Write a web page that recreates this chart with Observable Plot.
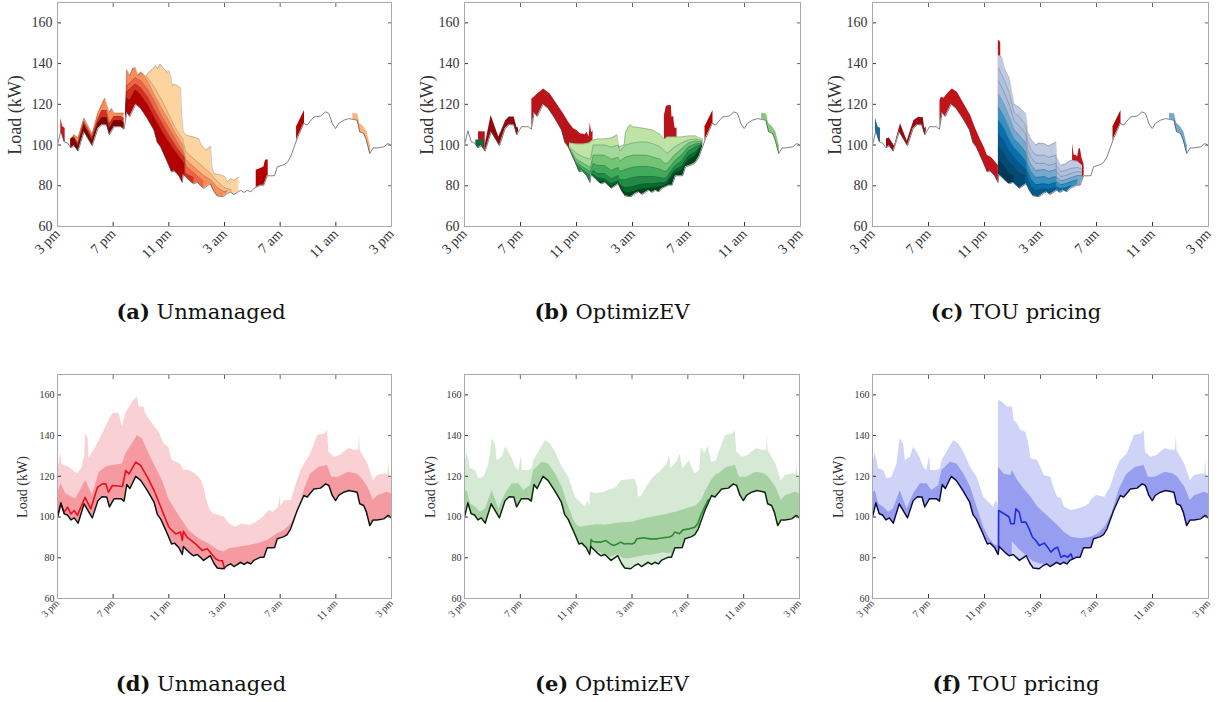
<!DOCTYPE html>
<html><head><meta charset="utf-8">
<script src="https://cdn.jsdelivr.net/npm/d3@7"></script>
<script src="https://cdn.jsdelivr.net/npm/@observablehq/plot@0.6"></script>
<style>
body{margin:0;background:#fff;}
#root{position:relative;width:1227px;height:702px;overflow:hidden;background:#fff;}
.panel{position:absolute;}
.cap{position:absolute;font-family:"DejaVu Serif",serif;font-size:21px;color:#111;white-space:nowrap;transform:translate(-50%,-50%);}
.ylab{position:absolute;font-family:"Liberation Serif",serif;color:#333;white-space:nowrap;transform:translate(-50%,-50%) rotate(-90deg);}
</style></head><body><div id="root"></div>
<script>
// ---------- axis ticks ----------
const xTicks = [0, 4, 8, 12, 16, 20, 24];          // hours after 3 pm
const xTickLabels = ["3 pm", "7 pm", "11 pm", "3 am", "7 am", "11 am", "3 pm"];
const yTicks = [60, 80, 100, 120, 140, 160];
const yDomain = [60, 170];

// ---------- base (non-EV) load, [hour after 3 pm, kW] ----------
const baseLoad = [[0,100],[0.24,107],[0.48,101.6],[0.72,101],[0.96,98.6],[1.2,99.6],[1.48,97],[1.91,106.5],[2.5,99.6],[2.9,108],[3.2,110],[3.54,109.8],[3.73,105],[4.07,109],[4.55,109],[4.78,107.8],[4.98,116],[5.2,114],[5.62,120],[5.98,118],[6.46,113],[6.94,107.3],[7.18,101.2],[7.42,99],[7.89,91.8],[8.2,86.8],[8.4,87.2],[8.73,84.9],[8.97,81.6],[9.04,85.5],[9.57,82],[9.76,81],[10.05,81.6],[10.5,78.7],[10.98,81],[11.24,77.3],[11.48,75],[11.9,74.6],[12.2,76.2],[12.44,77],[12.68,75.7],[13.16,77.8],[13.4,76.7],[13.64,77.8],[13.88,77],[14.1,78.7],[14.6,80.3],[14.83,80.3],[15.07,84.9],[15.43,84.9],[15.6,85],[15.79,89.3],[16.27,90.4],[16.5,91.4],[16.75,94.2],[17.22,103.2],[17.7,110.6],[17.94,109.8],[18.42,113.8],[18.9,114.2],[19.26,116.3],[19.5,115.5],[19.74,110.6],[19.98,108.1],[20.2,110.6],[20.57,112.2],[20.93,113],[21.3,112.5],[21.53,112.2],[21.72,106.5],[22.0,105.7],[22.2,102.4],[22.44,95.8],[22.68,98.6],[22.97,98.6],[23.44,99.1],[23.76,100.8],[24,99.6]];

// ---------- (a) Unmanaged: cohort layer tops ----------
const aPatch1 = [[0.24,113],[0.38,109],[0.55,108.3]];
const aEve1 = [[0.96,103],[1.2,103.5],[1.48,99.5],[1.91,110],[2.5,102.5],[2.9,110.5],[3.2,113.5],[3.54,113.5],[3.73,108],[4.07,112],[4.55,112],[4.78,111]];
const aEve2 = [[0.96,103],[1.2,104],[1.48,101],[1.91,111.5],[2.5,104],[2.9,112.5],[3.2,117],[3.54,117],[3.73,110.5],[4.07,114],[4.55,114],[4.78,113]];
const aEve3 = [[0.96,103],[1.2,105],[1.48,103.5],[1.91,113.3],[2.5,105.5],[2.9,115.5],[3.2,120],[3.4,123],[3.54,120],[3.73,116],[3.9,118],[4.07,115.6],[4.55,115.6],[4.78,115.6]];
const aMain1 = [[4.9,116],[4.98,123],[5.2,122],[5.6,127],[6.0,124.5],[6.5,119.5],[7.0,113],[7.5,107],[8.0,101.5],[8.5,96.5],[9.0,92],[9.15,90.5]];
const aMain2 = [[4.9,116.5],[4.98,126],[5.6,130],[6.0,128],[6.5,123.5],[7.0,117],[7.5,111],[8.0,105],[8.5,99.5],[9.0,95],[9.15,94],[9.2,86],[9.8,84]];
const aMain3 = [[4.9,117],[4.98,129],[5.6,133],[6.0,131.5],[6.5,127],[7.0,121],[7.5,114],[8.0,108.5],[8.5,102.5],[9.0,97],[9.2,90],[9.5,88],[10.0,85],[10.5,82]];
const aMain4 = [[4.9,118],[4.98,137],[5.2,134],[5.4,137.5],[5.6,138],[5.8,134],[6.0,135.5],[6.3,133],[6.5,131],[7.0,124],[7.5,118],[8.0,112],[8.5,105.5],[9.0,100],[9.2,93],[9.5,91],[10.0,88],[10.5,85],[11.0,83],[11.5,79],[12.0,77],[12.2,77.5]];
const aMain5 = [[5.8,134.5],[6.0,136],[6.3,134],[6.5,133],[7.0,128],[7.5,122],[8.0,115],[8.5,108],[9.0,103],[9.2,97],[9.5,95],[10.0,92],[10.5,89],[11.0,86],[11.5,82],[12.0,79],[12.5,78]];
const aMain6 = [[6.4,134],[6.46,135],[6.8,137],[7.06,139],[7.2,137.5],[7.37,139.8],[7.66,137.3],[7.89,135.7],[8.0,136.5],[8.13,134],[8.25,129.2],[8.4,129.8],[8.61,129.2],[8.85,128],[8.92,115.3],[9.04,106.3],[9.33,104.7],[9.81,103.9],[10.17,103],[10.29,100.6],[10.65,97.4],[11.0,99.3],[11.1,89.2],[11.24,86],[11.84,85.1],[12.05,84.3],[12.2,81.9],[12.44,83.5],[12.68,82.7],[13.04,84.3]];
const aMorning = [[14.28,87.6],[14.6,88.5],[14.83,89.2],[14.95,92.5],[15.14,92.8]];
const patch17 = [[17.18,109],[17.75,117]];
const noonPatch = [[21.22,115.6],[21.58,115.3],[21.72,110.7],[22.0,109],[22.25,106.3],[22.42,101.4],[22.49,99.8]];

// ---------- (b) OptimizEV ----------
const bPatchRed = [[1.0,106.5],[1.48,106.5]];
const bPatchGreen = [[0.81,102.5],[1.41,102.5]];
const bEve = [[1.48,100],[1.9,114.5],[2.45,104],[2.95,112],[3.2,113.8],[3.55,113.8],[3.75,108.5],[3.86,108.5]];
const bRed = [[4.81,122.6],[4.98,123.5],[5.2,125],[5.65,127.5],[6.12,125.1],[6.6,120.2],[7.08,115.3],[7.44,111.2],[7.79,108],[8.03,107.1],[8.27,105.5],[8.63,105],[8.75,106.3],[8.91,103.9],[8.98,111],[9.08,106],[9.18,107]];
const bMorningRed = [[14.28,114.5],[14.42,119],[14.7,119.5],[14.78,119],[14.82,113.7],[14.94,114],[15.0,110],[15.06,108],[15.18,108.5]];
const bGreen1 = [[7.5,101],[8.0,100.5],[8.5,100.5],[8.9,101],[9.2,102.5],[9.5,103],[10.0,103],[10.5,103.5],[10.9,105],[11.0,99],[11.4,100],[11.5,106],[11.7,109],[11.9,110],[12.0,109],[12.5,108.5],[13.0,108],[13.5,107.3],[14.0,105],[14.3,103],[14.5,104],[15.0,104],[15.5,104],[16.0,104.5],[16.5,104.5],[16.9,103],[17.05,103]];
const bGreen2 = [[7.5,99],[8.0,96],[8.5,94],[9.0,93],[9.2,100],[9.5,100],[10.0,100],[10.5,99],[11.0,100],[11.1,97],[11.5,100],[12.0,101],[12.5,101.5],[13.0,101.5],[13.5,100.5],[14.0,99],[14.3,97],[14.5,96],[15.0,99],[15.5,101],[16.0,102.5],[16.5,103],[17.0,102]];
const bGreen3 = [[7.5,98.5],[8.0,93],[8.5,91],[9.0,89],[9.2,95],[9.5,95],[10.0,95],[10.5,93],[11.0,94],[11.1,92],[11.5,94],[12.0,95],[12.5,95],[13.0,95],[13.5,94],[14.0,93],[14.3,91],[14.5,91],[15.0,95],[15.5,98],[16.0,101],[16.5,102],[17.0,101.5]];
const bGreen4 = [[7.5,98],[8.0,91.5],[8.5,89],[9.0,87],[9.2,91],[9.5,90],[10.0,90],[10.5,87.5],[11.0,89],[11.1,87],[11.5,88],[12.0,89],[12.5,89.5],[13.0,89.5],[13.5,89],[14.0,88],[14.3,87],[14.5,87.5],[15.0,92],[15.5,95],[16.0,99],[16.5,100.5],[17.0,101]];
const bGreen5 = [[7.5,97.5],[8.0,90.5],[8.5,87.5],[9.0,85],[9.2,87.5],[9.5,86],[10.0,86],[10.5,83.5],[11.0,85],[11.1,83],[11.5,83],[12.0,84],[12.5,84.5],[13.0,84.5],[13.5,84.5],[14.0,84],[14.3,83.5],[14.5,84.5],[15.0,89.5],[15.5,92],[16.0,97],[16.5,99],[17.0,100.5]];
const bGreen6 = [[9.0,84],[9.2,85.5],[9.5,84],[10.0,83.5],[10.5,81],[11.0,82.5],[11.1,80.5],[11.5,79],[12.0,79.5],[12.5,80.5],[13.0,81],[13.5,81],[14.0,81.5],[14.3,81.5],[14.5,82.5],[15.0,87.5],[15.5,89.5],[16.0,94.5],[16.5,96.5],[17.0,100]];
const bGreen7 = [[9.5,82.3],[10.0,82],[10.5,79.5],[11.0,81.5],[11.5,76.5],[12.0,77],[12.5,78],[13.0,78.5],[13.5,79],[14.0,79.5],[14.3,80],[14.5,81],[15.0,86],[15.5,87.5],[16.0,92.5],[16.5,94.5],[17.0,100]];

// ---------- (c) TOU pricing ----------
const cPatchBlue = [[0.21,113.3],[0.41,108.8],[0.57,108.3]];
const cEve = [[1.0,103],[1.2,103.5],[1.57,99.5],[2.0,110.5],[2.48,102],[2.96,112],[3.32,113.7],[3.63,113.4],[3.73,108],[3.84,109]];
const cRed = [[4.82,121.8],[4.91,123.5],[5.1,123],[5.46,125.9],[5.7,127.5],[6.06,125.9],[6.54,120.2],[7.01,114.5],[7.37,108],[7.73,102.3],[7.97,99],[8.21,94.9],[8.44,94.1],[8.68,92.5],[8.87,90.8],[8.99,90]];
const cRedTop = [[8.99,151.5],[9.1,151],[9.16,150]];
const cMorningRed = [[14.29,100.6],[14.4,95],[14.55,95],[14.65,94],[14.75,98],[14.85,98.2],[14.95,94],[15.12,90]];
const cBlue1 = [[9.0,144],[9.11,143.8],[9.25,143],[9.4,138],[9.76,133],[9.9,128],[10.11,120],[10.47,118.6],[10.95,115.3],[11.07,107],[11.31,103],[11.67,100],[11.9,101],[12.27,100.6],[12.6,99.5],[13.1,101.4],[13.14,94],[13.45,90],[13.81,90.8],[14.17,92.5],[14.65,92],[15.0,90]];
const cBlue2 = [[9.0,138],[9.4,132],[9.76,126],[10.11,116],[10.47,114],[10.95,110],[11.07,102],[11.31,98],[11.67,95],[12.27,95],[12.6,94],[13.1,95],[13.14,90],[13.45,87],[13.81,87.5],[14.17,88.5],[14.65,89],[15.0,88]];
const cBlue3 = [[9.0,131.5],[9.4,126],[9.76,120],[10.11,112],[10.47,109.5],[10.95,105.5],[11.07,98],[11.31,94],[11.67,91],[12.27,91],[12.6,90],[13.1,91],[13.14,87],[13.45,84.5],[13.81,85],[14.17,86],[14.65,87],[15.0,86.5]];
const cBlue4 = [[9.0,125],[9.4,120],[9.76,114],[10.11,107.5],[10.47,105],[10.95,101],[11.07,94.5],[11.31,90.5],[11.67,87.5],[12.27,88],[12.6,87],[13.1,88],[13.14,84.5],[13.45,82.5],[13.81,83],[14.17,84],[14.65,85],[15.0,85]];
const cBlue5 = [[9.0,118.5],[9.4,114],[9.76,108],[10.11,103],[10.47,100.5],[10.95,96.5],[11.07,91],[11.31,87],[11.67,84],[12.27,84.5],[12.6,83.5],[13.1,84.5],[13.14,82],[13.45,80.5],[13.81,81],[14.17,82],[14.65,83]];
const cBlue6 = [[9.0,112],[9.4,108],[9.76,102.5],[10.11,98.5],[10.47,96],[10.95,92],[11.07,87.5],[11.31,83.5],[11.67,80.5],[12.27,81],[12.6,80.5],[13.1,81.5],[13.14,79.5],[13.45,78.5],[13.81,79],[14.17,80]];
const cBlue7 = [[9.0,105.5],[9.4,102],[9.76,97],[10.11,94],[10.47,91],[10.95,88],[11.07,84],[11.31,80],[11.67,77.5],[12.27,78.5],[12.6,78],[13.1,79]];
const cBlue8 = [[9.0,99],[9.4,96],[9.76,91.5],[10.11,89.5],[10.47,86],[10.95,85]];
const cBlue9 = [[9.0,92.5],[9.4,90],[9.76,86],[10.11,85]];

// ---------- bottom row: percentile bands and means ----------
const lightRight = [[18.2,131],[18.7,140],[19.2,140.8],[19.4,142.5],[19.5,131.8],[19.9,129.4],[20.3,130.2],[20.9,133.5],[21.4,132.7],[21.65,133],[21.7,140.8],[21.75,132.7],[22.3,126.1],[22.7,118],[23.0,120.4],[23.5,121.2],[23.75,121],[23.8,128.6],[23.85,121],[24,119.6]];
const darkRight = [[18.2,121.2],[18.8,124.5],[19.4,125.3],[19.7,119.6],[20.2,119.6],[20.9,122],[21.5,121.2],[21.8,119.6],[22.3,114.7],[22.7,108.1],[23.0,110.5],[23.7,112.2],[24,111.4]];

const lightD = [[0,126],[0.12,126.1],[0.24,131.8],[0.3,126],[0.48,125.3],[0.83,124.5],[1.43,121.2],[1.75,124],[1.95,130],[2.03,140.8],[2.2,138.4],[2.27,128.6],[2.75,134.3],[3.1,139],[3.47,144.2],[3.75,148],[3.95,150.7],[4.43,151],[4.67,144.2],[4.9,150.7],[5.38,156.4],[5.74,158.9],[5.86,154],[6.22,154],[6.34,150.7],[6.82,145.8],[7.3,141.7],[7.66,136],[8.0,134.3],[8.24,127.8],[8.84,126.1],[9.08,122.8],[9.44,122.8],[9.92,121.2],[10.28,118.5],[10.5,115],[10.7,109],[10.95,103.5],[11.2,101.6],[11.6,100.8],[11.96,100],[12.35,96.7],[12.8,95],[13.3,96.6],[13.8,95.8],[14.3,97.5],[14.8,99.9],[15.2,103.2],[15.5,102.4],[15.9,104.8],[16.0,110.5],[16.05,105],[16.3,108],[16.8,108],[17.1,114.7],[17.5,122.8],[17.9,127.7]];
const darkD = [[0,111],[0.24,116.3],[0.6,111.4],[1.31,108.9],[2.03,117.9],[2.51,110.6],[2.99,121.9],[3.47,124.5],[3.95,125.3],[4.67,126.1],[4.9,131],[5.38,136],[5.74,140],[6.1,138.4],[6.58,131],[7.06,124.5],[7.54,117.9],[8.0,108.9],[8.5,103.2],[8.96,98.3],[9.44,93.4],[10.16,89.3],[10.88,86.8],[11.6,83.6],[11.96,82.8],[12.35,84.4],[13.0,85.2],[13.8,86],[14.3,86.8],[15.1,88.5],[15.8,91.8],[16.3,93.4],[16.8,96.7],[17.3,103.2],[17.8,114.7]];
const meanD = [[0,100],[0.24,106.5],[0.48,102.4],[0.72,104.9],[0.96,101.5],[1.2,103.2],[1.43,100.8],[1.98,109.7],[2.39,104],[2.87,114.6],[3.23,116.3],[3.47,116.3],[3.66,112.2],[3.95,115.5],[4.67,115],[4.9,122.8],[5.14,121.2],[5.62,127],[5.98,125.3],[6.46,119.6],[6.94,113],[7.42,104.9],[8.0,95],[8.5,91.7],[8.84,92.6],[8.97,88.5],[9.04,93],[9.32,90],[9.6,88.5],[9.92,86.8],[10.4,83.6],[10.76,84.4],[11.12,81.5],[11.36,79.5],[11.6,78.7],[11.85,78.5],[12.0,74.6]];

const lightEFLeft = [[0,127.7],[0.07,127.7],[0.19,131.8],[0.43,123.7],[0.79,122.8],[1.03,118.8],[1.39,119.6],[1.75,126.1],[1.98,138.4],[2.22,135.9],[2.34,127.7],[2.7,129.4],[2.94,134.3],[3.18,131.8],[3.42,128.6],[3.65,124.5],[3.89,122.8],[4.08,130.2],[4.15,122.8],[4.61,122.8],[4.85,123.7],[4.96,127.7],[5.32,131.8],[5.8,137.6],[6.16,135.9],[6.52,131.8],[7.0,124.5],[7.47,119.6],[7.95,109.7],[8.3,107.3],[8.66,104.8],[8.85,108.1],[8.98,105]];
const darkEFLeft = [[0,111.4],[0.2,113],[0.43,106.5],[0.79,104.8],[1.15,102.4],[1.5,104],[1.98,113],[2.46,104],[2.94,111.4],[3.42,116.3],[3.89,116.3],[4.25,113],[4.73,115.5],[4.96,122.8],[5.56,126.9],[6.04,126.1],[6.52,121.2],[7.0,114.7],[7.47,104.8]];

const lightEMid = [[9.02,112.2],[9.37,111.4],[9.95,112],[10.3,113],[10.67,113.8],[10.9,114.7],[11.26,117.9],[11.86,118.3],[12.2,118.7],[12.4,115],[12.46,109.7],[12.7,110.5],[13.05,114.6],[13.53,119.5],[14.0,122],[14.5,126],[14.7,130.2],[14.8,123.7],[15.2,127],[15.44,131],[15.65,123.7],[16.1,127.7],[16.5,121.2],[16.85,122.8],[16.97,134.3],[17.2,131],[17.45,135],[17.7,126.9],[18.05,127.7]];
const darkEMid = [[7.95,96.7],[8.3,95],[9.02,95.8],[9.5,96.2],[10.1,96],[10.9,97],[12.0,97.5],[13.0,99.3],[14.25,101],[15.2,102.5],[16.1,104.5],[16.6,105.5],[16.97,108.1],[17.3,113],[17.7,117.9],[18.05,121.2]];
const darkLowE = [[9.6,83],[10.0,81.5],[10.43,80.3],[11.0,81.5],[11.38,79.5],[11.86,79.5],[12.34,80.3],[13.05,81.2],[13.3,81.1],[14.25,82.5],[14.6,82],[14.8,82.5]];
const meanE = [[9.04,85.5],[9.06,89],[9.2,88],[9.5,87.7],[9.8,87.7],[10.1,88.5],[10.45,86.8],[10.7,86],[10.95,86.8],[11.2,87.7],[11.45,86.8],[11.7,87],[12.0,86.8],[12.2,87.5],[12.34,89.3],[12.8,89.8],[13.3,89.3],[13.8,89.3],[14.25,89.8],[14.7,90.2],[14.9,91],[15.06,92.6],[15.4,91.8],[15.65,93.7],[16.1,94.2],[16.5,95],[16.7,96.7],[16.97,101.6],[17.2,104.9],[17.45,108.5]];

const lightFMid = [[8.99,105],[9.0,157.3],[9.28,156.4],[9.64,154],[10.0,154],[10.12,147.4],[10.36,145.8],[10.6,142.5],[10.95,141.7],[11.19,135],[11.31,128.6],[11.79,127.8],[12.27,120.4],[12.74,119.6],[12.98,113.8],[13.22,109.8],[13.5,109],[13.7,104.9],[14.2,103.2],[14.7,104],[15.15,104.9],[15.5,106.5],[15.6,108.1],[16.0,110.6],[16.6,109.7],[17.0,114.6],[17.4,122.8],[17.7,127.7]];
const darkFMid = [[7.95,95],[8.3,90.1],[8.66,86.8],[8.98,85.5],[9.0,124.5],[9.4,121.2],[9.88,120.4],[10.0,122.8],[10.36,118],[10.83,113.8],[11.31,109.8],[11.79,105],[12.27,102],[12.74,99],[13.22,96],[13.7,92.5],[14.2,90.1],[14.9,89.3],[15.6,90.1],[16.1,91.7],[16.6,95],[17.1,101.6],[17.6,113],[18.05,119.6]];
const darkLowF = [[9.98,88],[10.5,84],[11.0,81],[11.5,78],[12.0,77],[12.5,76.5]];
const meanF = [[9.0,85.5],[9.01,103.2],[9.4,101.6],[9.76,100],[9.88,96.7],[10.12,96.7],[10.24,104],[10.48,102.4],[10.64,97.5],[10.95,97.5],[11.19,94.2],[11.43,90.1],[11.67,88.5],[11.91,86],[12.27,87.2],[12.51,85.2],[12.74,82.8],[12.98,84.4],[13.22,85.2],[13.46,80.3],[13.7,81.1],[13.94,80.3],[14.18,81.9],[14.3,79.5]];

// ---------- helpers ----------
const H = d => d[0], V = d => d[1];
const fillTo = (pts, color) => Plot.areaY(pts, {x: H, y1: yDomain[0], y2: V, fill: color, clip: true});
const sepLine = pts => Plot.line(pts, {x: H, y: V, stroke: "#333", strokeOpacity: 0.5, strokeWidth: 0.5, clip: true});

function axes(fs, pad) {
  return [
    Plot.axisY({anchor: "left", ticks: yTicks, tickSize: -4, tickPadding: pad, label: null, fontSize: fs, color: "#333"}),
    Plot.axisY({anchor: "right", ticks: yTicks, tickSize: -4, tickFormat: () => "", label: null, color: "#666"}),
    Plot.axisX({anchor: "bottom", ticks: xTicks, tickSize: -4, tickPadding: pad, tickRotate: -45, label: null, fontSize: fs, color: "#333",
      tickFormat: d => xTickLabels[xTicks.indexOf(d)]}),
    Plot.axisX({anchor: "top", ticks: xTicks, tickSize: -4, tickFormat: () => "", label: null, color: "#666"}),
    Plot.frame({stroke: "#a9a9a9"})
  ];
}

function topPanel(fills, seps, ml, width) {
  return Plot.plot({
    width, height: 280, marginLeft: ml, marginRight: 10, marginTop: 2, marginBottom: 54,
    x: {domain: [0, 24]}, y: {domain: yDomain},
    style: {fontFamily: "Liberation Serif, serif", background: "transparent", overflow: "visible"},
    marks: [
      ...fills.map(([pts, c]) => fillTo(pts, c)),
      ...seps.map(sepLine),
      fillTo(baseLoad, "white"),
      Plot.line(baseLoad, {x: H, y: V, stroke: "#4a4a4a", strokeWidth: 0.7, clip: true}),
      ...axes(14, 9)
    ]
  });
}

function bottomPanel(p, ml, width) {
  return Plot.plot({
    width, height: 280, marginLeft: ml, marginRight: 10, marginTop: 2, marginBottom: 54,
    x: {domain: [0, 24]}, y: {domain: yDomain},
    style: {fontFamily: "Liberation Serif, serif", background: "transparent", overflow: "visible"},
    marks: [
      fillTo(p.light, p.lc),
      fillTo(p.dark, p.dc),
      ...(p.low ? [fillTo(p.low, p.lc)] : []),
      fillTo(baseLoad, "white"),
      Plot.line(p.mean, {x: H, y: V, stroke: p.mc, strokeWidth: 1.6, clip: true}),
      Plot.line(baseLoad, {x: H, y: V, stroke: p.bc, strokeWidth: 1.5, clip: true}),
      ...axes(10, 7)
    ]
  });
}

const root = document.getElementById("root");
function place(svg, left, top) {
  const d = document.createElement("div");
  d.className = "panel"; d.style.left = left + "px"; d.style.top = top + "px";
  d.appendChild(svg); root.appendChild(d);
}
function text(cls, html, x, y, fs) {
  const d = document.createElement("div");
  d.className = cls; d.innerHTML = html; d.style.left = x + "px"; d.style.top = y + "px";
  if (fs) d.style.fontSize = fs + "px";
  root.appendChild(d);
}

// (a)
place(topPanel([
  [aPatch1, "#c8141b"],
  [aEve3, "#fc8d59"], [aEve2, "#d7301f"], [aEve1, "#7f0000"],
  [aMain6, "#fdd49e"], [aMain5, "#fdbb84"], [aMain4, "#fc8d59"], [aMain3, "#ef6548"], [aMain2, "#d7301f"], [aMain1, "#b30000"],
  [aMorning, "#b30000"], [patch17, "#b30000"], [noonPatch, "#fdb27a"]
], [aEve3, aEve2, aEve1, aMain6, aMain5, aMain4, aMain3, aMain2, aMain1], 57, 401), 0, 0);

// (b)
place(topPanel([
  [bPatchRed, "#b8141a"], [bPatchGreen, "#0e6b3a"], [bEve, "#8e0a10"], [bRed, "#b8141a"], [bMorningRed, "#b8141a"],
  [bGreen1, "#bfe4a6"], [bGreen2, "#a1d99b"], [bGreen3, "#74c476"], [bGreen4, "#41ab5d"], [bGreen5, "#238b45"], [bGreen6, "#006d2c"], [bGreen7, "#00441b"],
  [patch17, "#b30000"], [noonPatch, "#86c97a"]
], [bGreen1, bGreen2, bGreen3, bGreen4, bGreen5, bGreen6, bGreen7], 56, 402), 408, 0);

// (c)
place(topPanel([
  [cPatchBlue, "#1d6b9e"], [cEve, "#960a12"], [cRed, "#c0141a"], [cRedTop, "#c0141a"], [cMorningRed, "#c0141a"],
  [cBlue1, "#bfcbe3"], [cBlue2, "#b0c1dd"], [cBlue3, "#a6bddb"], [cBlue4, "#74a9cf"], [cBlue5, "#3690c0"], [cBlue6, "#0570b0"], [cBlue7, "#045a8d"], [cBlue8, "#034a75"], [cBlue9, "#023858"],
  [patch17, "#b30000"], [noonPatch, "#74a9cf"]
], [cBlue1, cBlue2, cBlue3, cBlue4, cBlue5, cBlue6, cBlue7, cBlue8, cBlue9], 56, 402), 816, 0);

// (d)
place(bottomPanel({light: [...lightD, ...lightRight], dark: [...darkD, ...darkRight], mean: meanD,
  lc: "#f9d0d3", dc: "#f59aa0", mc: "#e8101c", bc: "#111"}, 57, 401), 0, 372);
// (e)
place(bottomPanel({light: [...lightEFLeft, ...lightEMid, ...lightRight], dark: [...darkEFLeft, ...darkEMid, ...darkRight], low: darkLowE, mean: meanE,
  lc: "#d6e9d5", dc: "#a6d1a3", mc: "#2e8b2e", bc: "#0c260c"}, 56, 401), 408, 372);
// (f)
place(bottomPanel({light: [...lightEFLeft, ...lightFMid, ...lightRight], dark: [...darkEFLeft, ...darkFMid, ...darkRight], low: darkLowF, mean: meanF,
  lc: "#d0d3f8", dc: "#979ef0", mc: "#1f2fe0", bc: "#0b0b45"}, 56, 402), 816, 372);

// axis titles
[[15, 115, 18], [427, 115, 18], [835, 115, 18]].forEach(([x, y, f]) => text("ylab", "Load (kW)", x, y, f));
[[23, 487, 14], [431, 487, 14], [839, 487, 14]].forEach(([x, y, f]) => text("ylab", "Load (kW)", x, y, f));

// captions
text("cap", "<b>(a)</b> Unmanaged", 201, 311);
text("cap", "<b>(b)</b> OptimizEV", 612, 311);
text("cap", "<b>(c)</b> TOU pricing", 1016, 311);
text("cap", "<b>(d)</b> Unmanaged", 201, 683);
text("cap", "<b>(e)</b> OptimizEV", 612, 683);
text("cap", "<b>(f)</b> TOU pricing", 1016, 683);
</script></body></html>
